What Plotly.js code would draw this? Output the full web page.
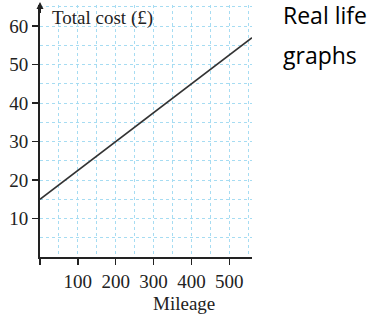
<!DOCTYPE html>
<html>
<head>
<meta charset="utf-8">
<script src="https://cdn.plot.ly/plotly-3.0.1.min.js"></script>
<style>html,body{margin:0;padding:0;background:#fff;}#chart{width:380px;height:315px;}</style>
</head>
<body>
<div id="chart"></div>
<script>
const mileage = [0, 560];
const totalCost = [15, 57];
const xTickVals = [0, 100, 200, 300, 400, 500];
const xTickText = ['', '100', '200', '300', '400', '500'];
const yTickVals = [10, 20, 30, 40, 50, 60];
const yTickText = ['10', '20', '30', '40', '50', '60'];

const serif = {family: 'Liberation Serif, Times New Roman, serif', size: 19, color: '#222'};
const gridColor = '#a6dcf2';
const sans = {family: 'Open Sans, Liberation Sans, sans-serif', size: 23, color: '#000'};

const trace = {
  x: mileage, y: totalCost, mode: 'lines', type: 'scatter',
  line: {color: '#333', width: 1.5}, hoverinfo: 'skip', cliponaxis: false
};

const layout = {
  width: 380, height: 315,
  margin: {l: 39.5, r: 128, t: 5, b: 58},
  paper_bgcolor: '#fff', plot_bgcolor: '#fff',
  showlegend: false,
  xaxis: {
    range: [0, 560], tickvals: xTickVals, ticktext: xTickText,
    showgrid: true, gridcolor: gridColor, griddash: 'dot', gridwidth: 1,
    minor: {dtick: 50, showgrid: true, gridcolor: gridColor, griddash: 'dot', gridwidth: 1},
    showline: true, linecolor: '#222', linewidth: 2,
    ticks: 'outside', ticklen: 6, tickcolor: '#222', tickwidth: 1.5,
    tickfont: serif, zeroline: false, fixedrange: true
  },
  yaxis: {
    range: [0, 65.5], tickvals: yTickVals, ticktext: yTickText,
    showgrid: true, gridcolor: gridColor, griddash: 'dot', gridwidth: 1,
    minor: {dtick: 5, showgrid: true, gridcolor: gridColor, griddash: 'dot', gridwidth: 1},
    showline: true, linecolor: '#222', linewidth: 2,
    ticks: 'outside', ticklen: 6, tickcolor: '#222', tickwidth: 1.5,
    tickfont: serif, zeroline: false, fixedrange: true
  },
  annotations: [
    {x: 0, y: 66.3, ax: 0, ay: 63, xref: 'x', yref: 'y', axref: 'x', ayref: 'y',
     showarrow: true, arrowhead: 2, arrowsize: 0.7, arrowwidth: 2, arrowcolor: '#222', text: ''},
    {text: 'Total cost (£)', xref: 'paper', yref: 'paper', x: 0, y: 1, xanchor: 'left', yanchor: 'middle',
     yshift: -13, xshift: 10, showarrow: false, font: serif},
    {text: 'Mileage', xref: 'paper', yref: 'paper', x: (184-39.5)/212.5, y: 0, xanchor: 'center', yanchor: 'middle',
     yshift: -46, showarrow: false, font: serif},
    {text: 'Real life', xref: 'paper', yref: 'paper', x: 1, y: 1, xanchor: 'left', yanchor: 'middle',
     xshift: 29, yshift: -10, showarrow: false, font: sans},
    {text: 'graphs', xref: 'paper', yref: 'paper', x: 1, y: 1, xanchor: 'left', yanchor: 'middle',
     xshift: 29, yshift: -50, showarrow: false, font: sans}
  ]
};

Plotly.newPlot('chart', [trace], layout, {staticPlot: true, displayModeBar: false});
</script>
</body>
</html>
